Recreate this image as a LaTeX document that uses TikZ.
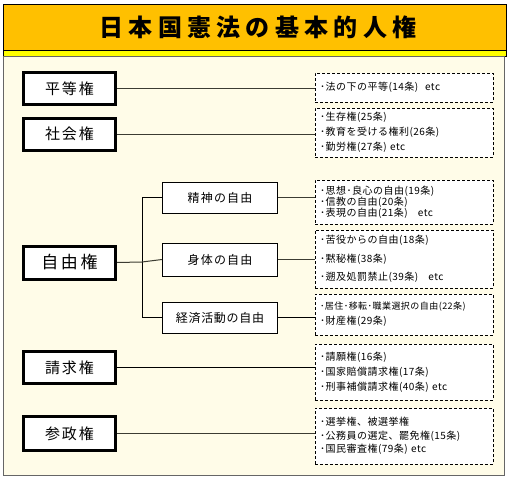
\documentclass[tikz,border=0pt]{standalone}
\usepackage{fontspec}
\newfontfamily\jp{Noto Sans CJK JP}
\definecolor{titleorange}{RGB}{255,192,0}
\definecolor{stripe}{RGB}{255,255,0}
\definecolor{cream}{RGB}{255,252,232}
\definecolor{conncol}{RGB}{60,60,50}
\newcommand{\lf}[2]{\jp\addfontfeature{LetterSpace=5}\fontsize{#1}{#2}\selectfont}
\tikzset{
  mainbox/.style={draw=black, line width=3pt, fill=white, minimum width=92pt, minimum height=32pt, inner sep=0pt, font=\jp\fontsize{15}{15}\selectfont},
  subbox/.style={draw=black, line width=1pt, fill=white, minimum width=115pt, minimum height=31pt, inner sep=0pt, font=\jp\fontsize{12}{12}\selectfont},
  listbox/.style={draw=black, line width=1pt, dash pattern=on 3pt off 2pt, fill=white, minimum width=178pt, text width=168pt, align=left, inner xsep=5pt, inner ysep=0pt, font=\lf{10}{15}},
  conn/.style={draw=conncol, line width=1pt},
  spaced/.style={font=\jp\addfontfeature{LetterSpace=12}\fontsize{15}{15}\selectfont}
}
\begin{document}
\begin{tikzpicture}[x=1pt,y=-1pt]
\useasboundingbox (0,0) rectangle (512,479);
\fill[white] (0,0) rectangle (512,479);
% title
\draw[fill=titleorange, line width=1pt] (3.5,4.5) rectangle (506,50);
\draw[fill=stripe, line width=1pt] (3.5,50) rectangle (506,56);
\draw[fill=cream, draw=black!60, line width=1pt] (3.5,56) rectangle (504,475);
\node[font=\jp\bfseries\addfontfeature{LetterSpace=22}\fontsize{24}{24}\selectfont] (title) at (258,27) {日本国憲法の基本的人権};
% main boxes
\node[mainbox, spaced] (byodo) at (69.5,88.5) {平等権};
\node[mainbox, spaced] (shakai) at (69.5,134) {社会権};
\node[mainbox, spaced, minimum height=33pt, font=\jp\addfontfeature{LetterSpace=15}\fontsize{17}{17}\selectfont] (jiyu) at (69.5,262.5) {自由権};
\node[mainbox, spaced] (seikyu) at (69.5,367.5) {請求権};
\node[mainbox, spaced, minimum height=34pt] (sansei) at (69.5,433.5) {参政権};
% sub boxes
\node[subbox, font=\jp\addfontfeature{LetterSpace=10}\fontsize{12}{12}\selectfont] (seishin) at (220,197.5) {精神の自由};
\node[subbox, minimum height=33pt, font=\jp\addfontfeature{LetterSpace=10}\fontsize{12}{12}\selectfont] (shintai) at (220,259.5) {身体の自由};
\node[subbox, font=\jp\addfontfeature{LetterSpace=6}\fontsize{12}{12}\selectfont] (keizai) at (220,317.5) {経済活動の自由};
% list boxes
\node[listbox, minimum height=29pt] (l1) at (404,87.5) {･法の下の平等(14条)\ \ etc};
\node[listbox, minimum height=49pt] (l2) at (404,132.5) {･生存権(25条)\\･教育を受ける権利(26条)\\･勤労権(27条) etc};
\node[listbox, minimum height=44pt, font=\lf{10}{11}] (l3) at (404,202) {･思想･良心の自由(19条)\\･信教の自由(20条)\\･表現の自由(21条)\ \ \ etc};
\node[listbox, minimum height=58pt, font=\lf{10}{18.5}] (l4) at (404,259) {･苦役からの自由(18条)\\･黙秘権(38条)\\･遡及処罰禁止(39条)\ \ \ etc};
\node[listbox, minimum height=41pt] (l5) at (404,314.5) {{\lf{9}{15}･居住･移転･職業選択の自由(22条)}\\･財産権(29条)};
\node[listbox, minimum height=56pt] (l6) at (404,372) {･請願権(16条)\\･国家賠償請求権(17条)\\･刑事補償請求権(40条) etc};
\node[listbox, minimum height=56pt, font=\lf{10}{13.5}] (l7) at (404,436) {･選挙権、被選挙権\\･公務員の選定、罷免権(15条)\\･国民審査権(79条) etc};
% connectors
\draw[conn] (byodo.east) -- (byodo.east -| l1.west);
\draw[conn] (shakai.east) -- (shakai.east -| l2.west);
\coordinate (br) at (142,262);
\draw[conn] (jiyu.east) -- (br);
\draw[conn, draw=black] (seishin.west) -- (seishin.west -| br) -- (keizai.west -| br) -- (keizai.west);
\draw[conn] (br) -- (shintai.west);
\draw[conn] (seishin.east) -- (seishin.east -| l3.west);
\draw[conn] (shintai.east) -- (shintai.east -| l4.west);
\draw[conn, draw=black] (keizai.east) -- (keizai.east -| l5.west);
\draw[conn, draw=black] (seikyu.east) -- (seikyu.east -| l6.west);
\draw[conn] (sansei.east) -- (sansei.east -| l7.west);
\end{tikzpicture}
\end{document}
